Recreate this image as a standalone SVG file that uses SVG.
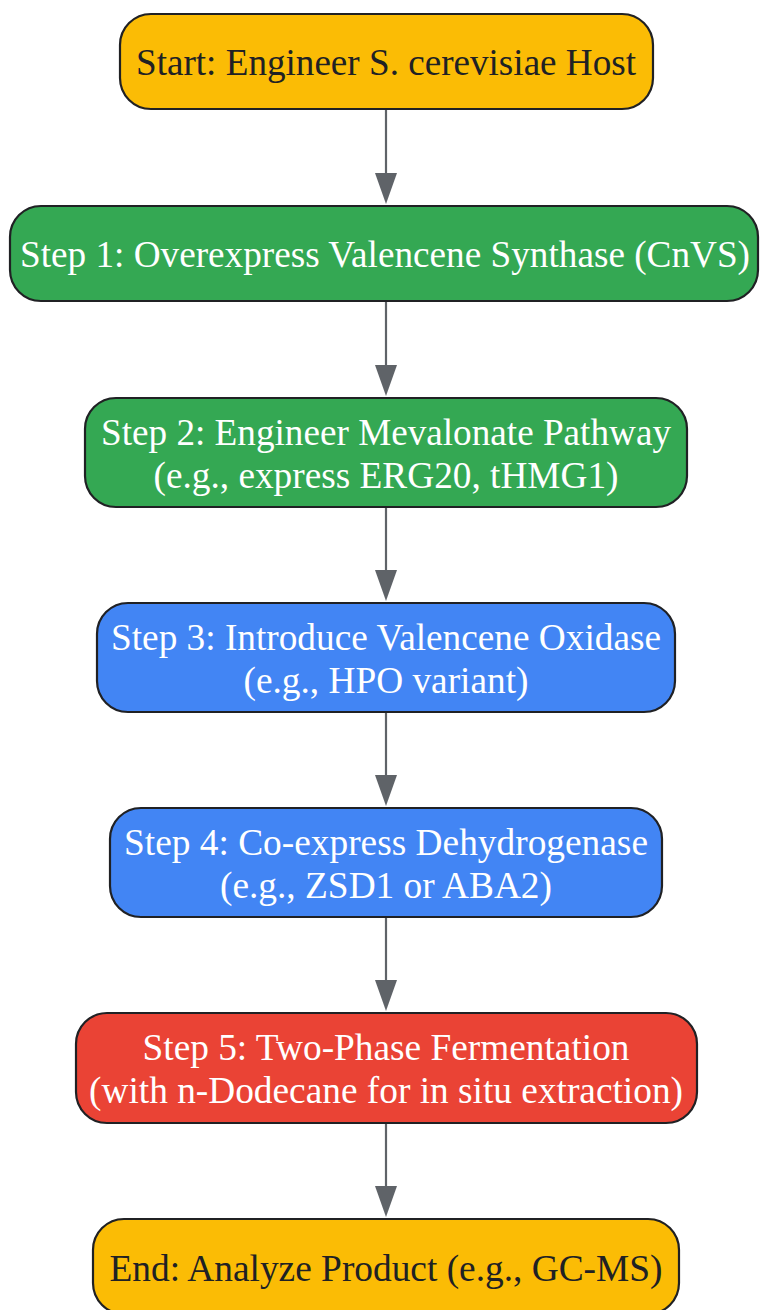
<svg xmlns="http://www.w3.org/2000/svg" width="760" height="1310" viewBox="0 0 760 1310">
<defs>
<style>
.n{stroke:#202124;stroke-width:2.2}
.y{fill:#FBBC05}.g{fill:#34A853}.b{fill:#4285F4}.r{fill:#EA4335}
text{font-family:"Liberation Serif","Times New Roman",serif;font-size:37px;text-anchor:middle}
.dk{fill:#202124}.wt{fill:#ffffff}
.e{stroke:#5F6368;stroke-width:2.2;fill:none}
.h{fill:#5F6368}
</style>
</defs>
<rect width="760" height="1310" fill="#ffffff"/>
<g id="connectors">
<line class="e" x1="386" y1="110" x2="386" y2="175"/><path class="h" d="M375,173 L397,173 L386,204 Z"/>
<line class="e" x1="386" y1="302" x2="386" y2="367"/><path class="h" d="M375,365 L397,365 L386,396 Z"/>
<line class="e" x1="386" y1="508" x2="386" y2="572"/><path class="h" d="M375,570 L397,570 L386,601 Z"/>
<line class="e" x1="386" y1="713" x2="386" y2="777"/><path class="h" d="M375,775 L397,775 L386,806 Z"/>
<line class="e" x1="386" y1="918" x2="386" y2="982"/><path class="h" d="M375,980 L397,980 L386,1011 Z"/>
<line class="e" x1="386" y1="1124" x2="386" y2="1188"/><path class="h" d="M375,1186 L397,1186 L386,1217 Z"/>
</g>
<g id="start">
<rect class="n y" x="120" y="14" width="533" height="95" rx="31"/>
<text class="dk" x="386" y="75" textLength="500" lengthAdjust="spacingAndGlyphs">Start: Engineer S. cerevisiae Host</text>
</g>
<g id="step1">
<rect class="n g" x="10" y="206" width="748" height="95" rx="31"/>
<text class="wt" x="385" y="267" textLength="730" lengthAdjust="spacingAndGlyphs">Step 1: Overexpress Valencene Synthase (CnVS)</text>
</g>
<g id="step2">
<rect class="n g" x="85" y="398" width="602" height="109" rx="31"/>
<text class="wt" x="386" y="445" textLength="570" lengthAdjust="spacingAndGlyphs">Step 2: Engineer Mevalonate Pathway</text>
<text class="wt" x="386" y="488" textLength="465" lengthAdjust="spacingAndGlyphs">(e.g., express ERG20, tHMG1)</text>
</g>
<g id="step3">
<rect class="n b" x="97" y="603" width="578" height="109" rx="31"/>
<text class="wt" x="386" y="650" textLength="550" lengthAdjust="spacingAndGlyphs">Step 3: Introduce Valencene Oxidase</text>
<text class="wt" x="386" y="693" textLength="285" lengthAdjust="spacingAndGlyphs">(e.g., HPO variant)</text>
</g>
<g id="step4">
<rect class="n b" x="110" y="808" width="552" height="109" rx="31"/>
<text class="wt" x="386" y="855" textLength="524" lengthAdjust="spacingAndGlyphs">Step 4: Co-express Dehydrogenase</text>
<text class="wt" x="386" y="898" textLength="332" lengthAdjust="spacingAndGlyphs">(e.g., ZSD1 or ABA2)</text>
</g>
<g id="step5">
<rect class="n r" x="76" y="1013" width="621" height="110" rx="31"/>
<text class="wt" x="386" y="1060" textLength="487" lengthAdjust="spacingAndGlyphs">Step 5: Two-Phase Fermentation</text>
<text class="wt" x="386" y="1103" textLength="594" lengthAdjust="spacingAndGlyphs">(with n-Dodecane for in situ extraction)</text>
</g>
<g id="end">
<rect class="n y" x="93" y="1219" width="586" height="95" rx="31"/>
<text class="dk" x="386" y="1281" textLength="553" lengthAdjust="spacingAndGlyphs">End: Analyze Product (e.g., GC-MS)</text>
</g>
</svg>
